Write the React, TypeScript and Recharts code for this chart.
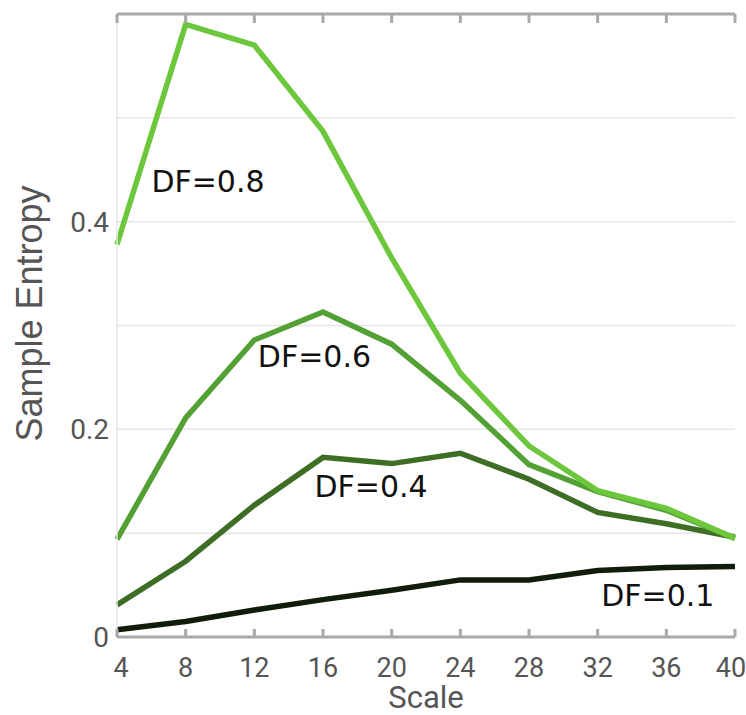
import { LineChart, Line, XAxis, YAxis, CartesianGrid, ReferenceDot } from 'recharts';

const scales = [4, 8, 12, 16, 20, 24, 28, 32, 36, 40];
const df08 = [0.378, 0.59, 0.57, 0.487, 0.365, 0.254, 0.184, 0.141, 0.124, 0.095];
const df06 = [0.094, 0.211, 0.286, 0.313, 0.282, 0.228, 0.166, 0.14, 0.122, 0.095];
const df04 = [0.031, 0.073, 0.127, 0.173, 0.167, 0.177, 0.152, 0.12, 0.109, 0.096];
const df01 = [0.007, 0.015, 0.026, 0.036, 0.045, 0.055, 0.055, 0.064, 0.067, 0.068];

const yTicks = [0, 0.1, 0.2, 0.3, 0.4, 0.5, 0.6];
const yLabels: Record<string, string> = { '0': '0', '0.2': '0.2', '0.4': '0.4' };

const seriesLabels = ['DF=0.8', 'DF=0.6', 'DF=0.4', 'DF=0.1'];
const labelX = [9.3, 15.5, 18.8, 35.5];
const labelY = [0.439, 0.27, 0.145, 0.04];

const data = scales.map((s, i) => ({
  scale: s,
  df08: df08[i],
  df06: df06[i],
  df04: df04[i],
  df01: df01[i],
}));

const axisGray = '#a8a8a8';
const textGray = '#555';
const gridGray = '#e6e6e6';
const narrow = 'Roboto, "Liberation Sans", sans-serif';
const bottomGap = 21;

// bottom ticks point up into the plot, label sits below the axis
function ScaleTick(props: any) {
  const { x, y, payload, index } = props;
  const last = scales.length - 1;
  const shift = index === 0 ? 4 : index === last ? -4 : 0;
  const axisY = y - bottomGap;
  return (
    <g>
      <line x1={x} x2={x} y1={axisY} y2={axisY - 8} stroke={axisGray} strokeWidth={3} />
      <text x={x + shift} y={y} dy="0.71em" textAnchor="middle" fill={textGray} fontSize={27} fontFamily={narrow}>
        {payload.value}
      </text>
    </g>
  );
}

// top ticks point down, no label
function TopTick(props: any) {
  const { x, y } = props;
  return <line x1={x} x2={x} y1={y} y2={y + 9} stroke={axisGray} strokeWidth={3} />;
}

export default function App() {
  return (
    <div style={{ position: 'absolute', left: 0, top: 0 }}>
      <LineChart width={746} height={715} data={data} margin={{ top: 13, right: 11, bottom: 0, left: 0 }}>
        <CartesianGrid vertical={false} stroke={gridGray} strokeWidth={1.5} />
        <XAxis
          dataKey="scale"
          type="number"
          domain={[4, 40]}
          ticks={scales}
          height={78}
          axisLine={{ stroke: axisGray, strokeWidth: 3 }}
          tickLine={false}
          tickSize={0}
          tickMargin={bottomGap}
          tick={<ScaleTick />}
          label={{
            value: 'Scale',
            position: 'insideBottom',
            offset: 7,
            fill: textGray,
            fontSize: 31,
            fontFamily: narrow,
          }}
        />
        <XAxis
          xAxisId="top"
          orientation="top"
          dataKey="scale"
          type="number"
          domain={[4, 40]}
          ticks={scales}
          height={1}
          tick={<TopTick />}
          axisLine={{ stroke: axisGray, strokeWidth: 3 }}
          tickLine={false}
          tickSize={0}
          tickMargin={0}
        />
        <YAxis
          type="number"
          domain={[0, 0.6]}
          ticks={yTicks}
          width={117}
          axisLine={{ stroke: gridGray, strokeWidth: 1.5 }}
          tickLine={false}
          tickSize={0}
          tickMargin={8}
          tickFormatter={(v: number) => yLabels[String(v)] ?? ''}
          tick={{ fill: textGray, fontSize: 28, fontFamily: narrow }}
          label={{
            value: 'Sample Entropy',
            angle: -90,
            position: 'center',
            dx: -29,
            dy: -12,
            fill: textGray,
            fontSize: 36,
            fontFamily: '"Liberation Sans", Arial, sans-serif',
          }}
        />
        <YAxis
          yAxisId="right"
          orientation="right"
          domain={[0, 0.6]}
          width={0}
          tick={false}
          tickLine={false}
          axisLine={{ stroke: gridGray, strokeWidth: 1.5 }}
        />
        <Line dataKey="df01" stroke="#111c0a" strokeWidth={5.5} dot={false} isAnimationActive={false} />
        <Line dataKey="df04" stroke="#3d6e24" strokeWidth={5.5} dot={false} isAnimationActive={false} />
        <Line dataKey="df06" stroke="#53a034" strokeWidth={5.5} dot={false} isAnimationActive={false} />
        <Line dataKey="df08" stroke="#6dc73d" strokeWidth={5.5} dot={false} isAnimationActive={false} />
        {seriesLabels.map((t, i) => (
          <ReferenceDot
            key={t}
            x={labelX[i]}
            y={labelY[i]}
            r={0}
            stroke="none"
            fill="none"
            label={{
              value: t,
              position: 'center',
              fill: '#111',
              fontSize: 30,
              fontFamily: '"DejaVu Sans", sans-serif',
            }}
          />
        ))}
      </LineChart>
    </div>
  );
}
